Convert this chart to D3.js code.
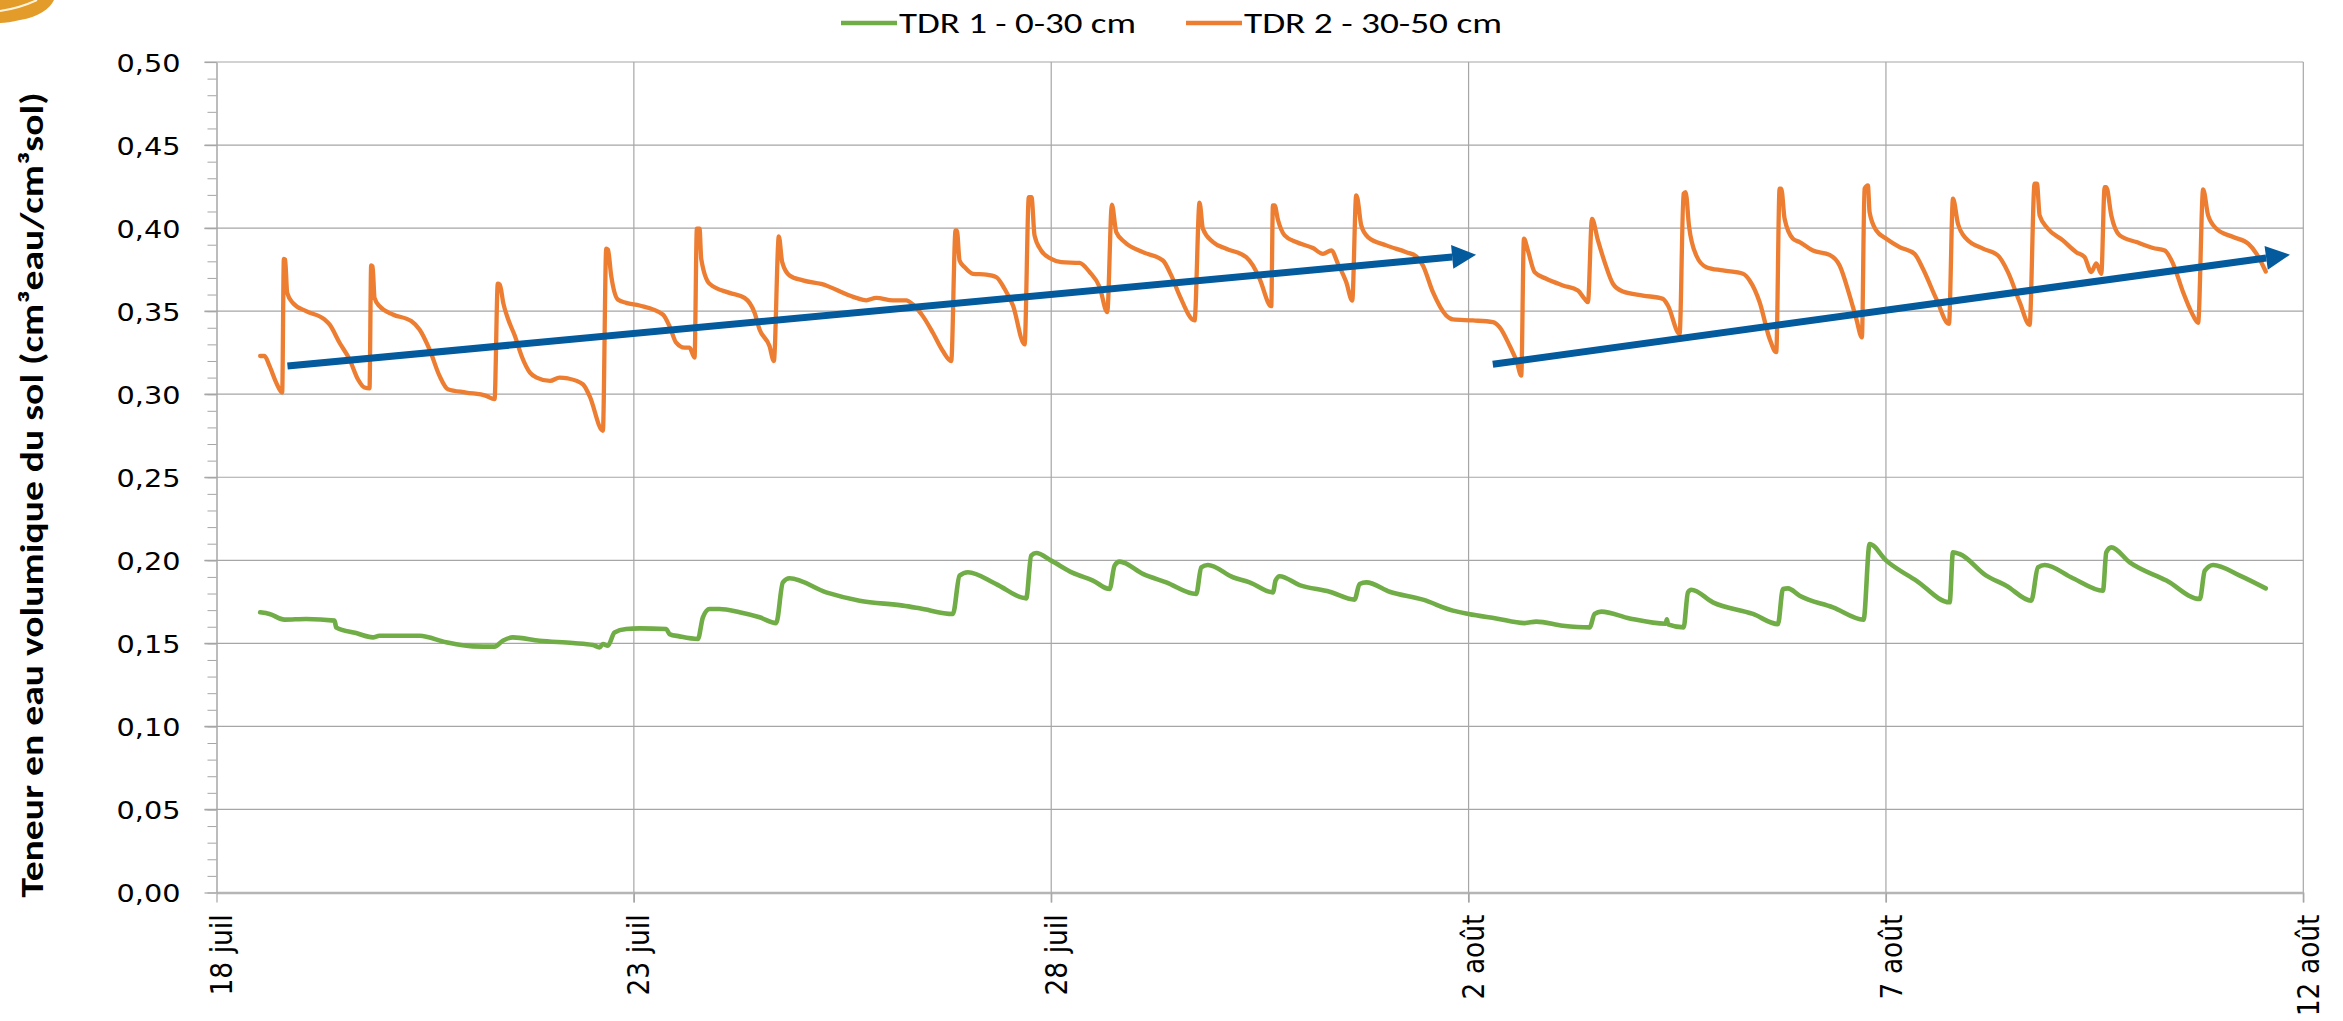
<!DOCTYPE html>
<html>
<head>
<meta charset="utf-8">
<script src="https://cdn.jsdelivr.net/npm/d3@7"></script>
<style>
  html, body { margin: 0; padding: 0; background: #ffffff; }
  svg { display: block; }
</style>
</head>
<body>
<svg id="chart" width="2343" height="1021"></svg>
<script>
// ---------------- DATA ----------------
const startDate = new Date(2019, 6, 18); // 18 juillet
const xTickDays = [0, 5, 10, 15, 20, 25];
const xTickLabels = ["18 juil", "23 juil", "28 juil", "2 août", "7 août", "12 août"];
const yTickValues = [0, 0.05, 0.10, 0.15, 0.20, 0.25, 0.30, 0.35, 0.40, 0.45, 0.50];
const yMinorValues = d3.range(0, 51).map(i => i / 100);

const seriesNames = ["TDR 1 - 0-30 cm", "TDR 2 - 30-50 cm"];
const seriesColors = ["#70AD47", "#ED7D31"];

// TDR 1 (0-30 cm): days since 18 juil, values
const tdr1Days = [0.523,0.635,0.815,1.074,1.414,1.434,1.673,1.873,1.953,2.432,2.752,3.071,3.331,3.43,3.55,3.87,4.269,4.509,4.589,4.629,4.689,4.768,4.908,5.068,5.387,5.427,5.547,5.767,5.827,5.907,6.026,6.266,6.506,6.705,6.785,6.865,7.304,7.704,8.223,8.423,8.822,8.902,9.002,9.341,9.70,9.76,9.82,10.0,10.26,10.5,10.699,10.759,10.819,11.098,11.378,11.737,11.797,11.877,12.177,12.376,12.656,12.688,12.736,12.975,13.335,13.634,13.694,13.774,14.054,14.453,14.812,15.0,15.331,15.671,15.811,16.13,16.45,16.51,16.59,16.93,17.36,17.376,17.39,17.576,17.628,17.668,17.927,18.407,18.706,18.766,18.826,18.966,19.365,19.732,19.804,20.004,20.363,20.763,20.803,20.883,21.202,21.442,21.741,21.821,21.901,22.24,22.6,22.64,22.70,22.92,23.36,23.76,23.82,23.92,24.24,24.55];
const tdr1Values = [0.1687,0.1677,0.1643,0.1647,0.1637,0.1596,0.1562,0.1536,0.1546,0.1546,0.1506,0.1482,0.148,0.1516,0.1536,0.1516,0.1502,0.149,0.1476,0.1496,0.1486,0.1566,0.1586,0.159,0.1586,0.1556,0.1542,0.1526,0.1657,0.1707,0.1707,0.1687,0.1657,0.1622,0.1867,0.1892,0.1807,0.1757,0.1727,0.1711,0.1677,0.1908,0.1928,0.1857,0.1771,0.2028,0.2044,0.1998,0.1924,0.1878,0.1827,0.1968,0.1992,0.1918,0.1867,0.1797,0.1958,0.1972,0.1898,0.1867,0.1807,0.1878,0.1904,0.1851,0.1811,0.1763,0.1857,0.1867,0.1811,0.1763,0.1697,0.1677,0.165,0.1622,0.1631,0.1606,0.1596,0.1677,0.1691,0.165,0.1618,0.1645,0.1614,0.1596,0.1807,0.1823,0.1747,0.1677,0.1616,0.1827,0.1831,0.1787,0.1717,0.1643,0.2098,0.1998,0.1878,0.1747,0.2048,0.2038,0.1908,0.1847,0.1757,0.1958,0.1972,0.1892,0.1817,0.2048,0.2078,0.1988,0.1878,0.1767,0.1938,0.1972,0.1908,0.1831];

// TDR 2 (30-50 cm): days since 18 juil, values
const tdr2Days = [0.523,0.575,0.635,0.715,0.787,0.807,0.822,0.847,0.914,1.074,1.294,1.354,1.474,1.594,1.694,1.773,1.833,1.853,1.870,1.893,1.953,2.113,2.333,2.432,2.552,2.672,2.772,2.991,3.231,3.331,3.370,3.395,3.435,3.495,3.575,3.655,3.755,3.835,3.995,4.11,4.209,4.389,4.469,4.629,4.669,4.690,4.728,4.808,4.908,5.068,5.347,5.427,5.507,5.607,5.667,5.727,5.755,5.787,5.807,5.907,6.146,6.326,6.446,6.506,6.625,6.677,6.737,6.777,6.865,7.025,7.304,7.464,7.664,7.784,7.904,8.103,8.263,8.343,8.462,8.582,8.702,8.802,8.854,8.870,8.902,8.962,9.062,9.221,9.341,9.441,9.541,9.681,9.732,9.764,9.800,9.880,10.0,10.12,10.34,10.46,10.58,10.671,10.727,10.779,10.879,11.098,11.338,11.438,11.538,11.717,11.777,11.817,11.937,12.097,12.336,12.416,12.496,12.636,12.656,12.676,12.716,12.796,12.935,13.135,13.255,13.355,13.435,13.534,13.606,13.654,13.668,13.714,13.794,14.014,14.253,14.373,14.453,14.573,14.732,14.812,15.052,15.292,15.371,15.491,15.579,15.631,15.663,15.711,15.791,15.931,16.13,16.31,16.39,16.43,16.478,16.55,16.63,16.729,16.849,17.089,17.328,17.388,17.528,17.576,17.600,17.64,17.728,17.848,18.047,18.287,18.367,18.487,18.607,18.686,18.726,18.746,18.786,18.886,18.966,19.126,19.325,19.445,19.565,19.645,19.712,19.744,19.784,19.804,19.884,20.004,20.164,20.343,20.443,20.603,20.755,20.803,20.863,20.962,21.162,21.342,21.462,21.602,21.721,21.781,21.809,21.841,21.94,22.12,22.28,22.38,22.46,22.52,22.58,22.62,22.64,22.70,22.80,23.0,23.2,23.34,23.44,23.56,23.66,23.74,23.80,23.86,23.96,24.16,24.34,24.44,24.55];
const tdr2Values = [0.323,0.323,0.317,0.307,0.301,0.3815,0.381,0.361,0.355,0.350,0.345,0.342,0.331,0.321,0.309,0.304,0.3035,0.3775,0.377,0.358,0.353,0.348,0.344,0.339,0.327,0.311,0.303,0.301,0.299,0.297,0.3665,0.366,0.355,0.345,0.335,0.323,0.313,0.310,0.308,0.310,0.3095,0.306,0.299,0.278,0.3876,0.387,0.3715,0.357,0.355,0.3534,0.348,0.341,0.331,0.328,0.328,0.322,0.3996,0.3996,0.3815,0.3665,0.361,0.358,0.349,0.339,0.329,0.320,0.395,0.3795,0.3715,0.3685,0.3655,0.362,0.358,0.3565,0.358,0.3565,0.3565,0.354,0.347,0.337,0.326,0.320,0.3986,0.3986,0.3805,0.3765,0.3725,0.372,0.3705,0.3635,0.3535,0.330,0.4187,0.4187,0.3956,0.3865,0.3815,0.3795,0.379,0.3735,0.3645,0.3494,0.4141,0.3976,0.3916,0.3855,0.3805,0.3715,0.3594,0.3444,0.4153,0.3996,0.3916,0.3876,0.3825,0.3775,0.3695,0.353,0.4137,0.4137,0.405,0.3956,0.3916,0.388,0.3845,0.3865,0.3785,0.3675,0.3564,0.4197,0.418,0.4016,0.3946,0.3896,0.3855,0.383,0.3775,0.3614,0.3474,0.345,0.3444,0.3434,0.3404,0.3293,0.3193,0.3112,0.3936,0.3865,0.3735,0.3695,0.3655,0.3624,0.3574,0.3554,0.4056,0.3926,0.3795,0.3665,0.3618,0.3594,0.3574,0.3534,0.3363,0.4207,0.4217,0.4016,0.3835,0.3765,0.3745,0.3725,0.3685,0.3554,0.3333,0.3253,0.4237,0.4237,0.4056,0.3936,0.3916,0.3865,0.3839,0.3775,0.3594,0.3454,0.3343,0.4237,0.4257,0.4096,0.3986,0.3936,0.3886,0.3845,0.3755,0.3574,0.3424,0.4177,0.4026,0.3936,0.3876,0.3835,0.3735,0.3554,0.3418,0.4267,0.4267,0.4076,0.3996,0.3926,0.3855,0.3825,0.3735,0.3787,0.3725,0.4247,0.4247,0.4076,0.3956,0.3916,0.388,0.3865,0.3785,0.3614,0.3494,0.343,0.4233,0.4076,0.3996,0.3946,0.3906,0.3845,0.3739];

// Trend arrows (annotation): start and end in data coordinates
const arrowStartDays = [0.85, 15.29];
const arrowStartValues = [0.317, 0.318];
const arrowEndDays = [15.09, 24.84];
const arrowEndValues = [0.384, 0.384];

const yTitle = "Teneur en eau volumique du sol (cm³eau/cm³sol)";

// ---------------- DRAWING ----------------
const dateOf = d => new Date(startDate.getTime() + d * 86400000);
const svg = d3.select("#chart");
const plotLeft = 216.5, plotRight = 2303.3, plotTop = 62, plotBottom = 892.5;

const x = d3.scaleTime().domain([dateOf(0), dateOf(25)]).range([plotLeft, plotRight]);
const y = d3.scaleLinear().domain([0, 0.5]).range([plotBottom, plotTop]);
const fmtY = v => v.toFixed(2).replace(".", ",");
const gridColor = "#a6a6a6";

// decorative logo corner
svg.append("path").attr("d", "M0,0 L54,0 C50,9 38,17 20,20 C12,22 5,23 0,23 Z").attr("fill", "#e39b2a");
svg.append("path").attr("d", "M0,11 Q20,8 37,0").attr("fill", "none").attr("stroke", "#fff3dc").attr("stroke-width", 2);

// horizontal gridlines
svg.append("g").selectAll("line").data(yTickValues.filter(v => v > 0)).join("line")
  .attr("x1", plotLeft - 12).attr("x2", plotRight)
  .attr("y1", d => y(d)).attr("y2", d => y(d))
  .attr("stroke", gridColor).attr("stroke-width", 1.2);

// vertical gridlines
svg.append("g").selectAll("line").data(xTickDays.filter(d => d > 0)).join("line")
  .attr("x1", d => x(dateOf(d))).attr("x2", d => x(dateOf(d)))
  .attr("y1", plotTop).attr("y2", plotBottom + 10)
  .attr("stroke", gridColor).attr("stroke-width", 1.2);

// minor y ticks
const yMinor = svg.append("g").attr("transform", `translate(${plotLeft},0)`)
  .call(d3.axisLeft(y).tickValues(yMinorValues).tickSize(9).tickSizeOuter(0).tickFormat(""));
yMinor.select(".domain").remove();
yMinor.selectAll("line").attr("stroke", gridColor).attr("stroke-width", 1);

// y axis
const yAxis = svg.append("g").attr("transform", `translate(${plotLeft},0)`)
  .call(d3.axisLeft(y).tickValues(yTickValues).tickSize(12).tickSizeOuter(0).tickPadding(24).tickFormat(fmtY));
yAxis.select(".domain").attr("stroke", gridColor).attr("stroke-width", 1.5);
yAxis.selectAll(".tick line").attr("stroke", gridColor).attr("stroke-width", 1.2);
yAxis.selectAll("text")
  .attr("font-family", "'DejaVu Sans', Verdana, sans-serif")
  .attr("font-size", 25).attr("fill", "#000")
  .attr("textLength", 64).attr("lengthAdjust", "spacingAndGlyphs")
  .attr("dy", "0.36em");

// x axis
const xAxis = svg.append("g").attr("transform", `translate(0,${plotBottom})`)
  .call(d3.axisBottom(x).tickValues(xTickDays.map(dateOf)).tickSize(10).tickSizeOuter(0)
    .tickFormat((d, i) => xTickLabels[i]));
xAxis.select(".domain").attr("stroke", "#b5b5b5").attr("stroke-width", 2.6);
xAxis.selectAll(".tick line").attr("stroke", gridColor).attr("stroke-width", 1.2);
xAxis.selectAll("text")
  .attr("font-family", "'DejaVu Sans', Verdana, sans-serif")
  .attr("font-size", 26.5).attr("fill", "#000")
  .attr("text-anchor", "end")
  .attr("transform", "rotate(-90) scale(1,1.16)")
  .attr("x", -22).attr("y", 13).attr("dy", 0);

// y title
svg.append("text")
  .attr("transform", "translate(43,495) rotate(-90) scale(1,1.12)")
  .attr("text-anchor", "middle")
  .attr("font-family", "Carlito, 'Open Sans', sans-serif")
  .attr("font-weight", "bold").attr("font-size", 28.5).attr("fill", "#000")
  .attr("textLength", 805).attr("lengthAdjust", "spacingAndGlyphs")
  .text(yTitle);

// series lines
const line = d3.line().x(d => x(dateOf(d[0]))).y(d => y(d[1])).curve(d3.curveMonotoneX);
const tdr1 = tdr1Days.map((d, i) => [d, tdr1Values[i]]);
const tdr2 = tdr2Days.map((d, i) => [d, tdr2Values[i]]);
svg.append("path").datum(tdr1).attr("d", line).attr("fill", "none")
  .attr("stroke", seriesColors[0]).attr("stroke-width", 4.6).attr("stroke-linejoin", "round").attr("stroke-linecap", "round");
svg.append("path").datum(tdr2).attr("d", line).attr("fill", "none")
  .attr("stroke", seriesColors[1]).attr("stroke-width", 4.3).attr("stroke-linejoin", "round").attr("stroke-linecap", "round");

// trend arrows
const arrowColor = "#035a9c";
arrowStartDays.forEach((sd, i) => {
  const x0 = x(dateOf(sd)), y0 = y(arrowStartValues[i]);
  const x1 = x(dateOf(arrowEndDays[i])), y1 = y(arrowEndValues[i]);
  const ang = Math.atan2(y1 - y0, x1 - x0);
  const headLen = 24, headHalf = 12;
  const bx = x1 - headLen * Math.cos(ang), by = y1 - headLen * Math.sin(ang);
  svg.append("line").attr("x1", x0).attr("y1", y0).attr("x2", bx).attr("y2", by)
    .attr("stroke", arrowColor).attr("stroke-width", 7);
  const px = -Math.sin(ang) * headHalf, py = Math.cos(ang) * headHalf;
  svg.append("path")
    .attr("d", `M${x1},${y1} L${bx + px},${by + py} L${bx - px},${by - py} Z`)
    .attr("fill", arrowColor);
});

// legend
const legendX = [841, 1186];
const legendTextW = [237, 258];
seriesNames.forEach((name, i) => {
  const g = svg.append("g");
  g.append("line").attr("x1", legendX[i]).attr("x2", legendX[i] + 56)
    .attr("y1", 23).attr("y2", 23)
    .attr("stroke", seriesColors[i]).attr("stroke-width", 4.5);
  g.append("text").attr("x", legendX[i] + 58).attr("y", 33)
    .attr("font-family", "Carlito, 'Open Sans', sans-serif")
    .attr("font-size", 28).attr("fill", "#000")
    .attr("textLength", legendTextW[i]).attr("lengthAdjust", "spacingAndGlyphs")
    .text(name);
});
</script>
</body>
</html>
